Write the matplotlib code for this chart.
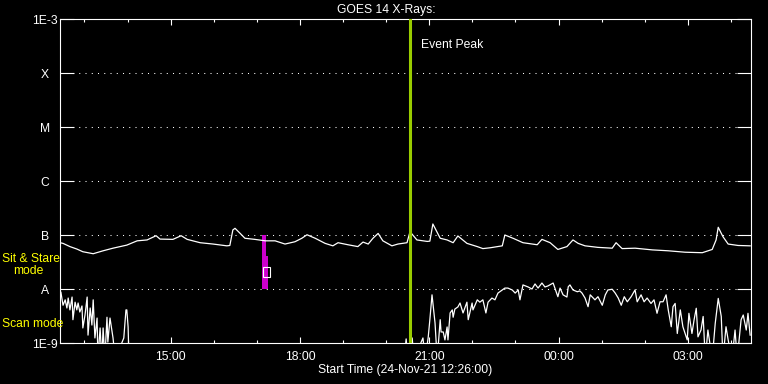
import numpy as np
import matplotlib
matplotlib.use('Agg')
import matplotlib.pyplot as plt
import matplotlib.dates as mdates
from matplotlib.patches import Rectangle

# start of plot window and length (hours)
t0 = np.datetime64('2021-11-24T12:26:00')
span = 16.03

# 1-8 A channel (upper curve), hours since start / flux in 1e-8 W/m^2
hi_hours = [0.00, 0.07, 0.23, 0.39, 0.53, 0.77, 1.00, 1.23, 1.55, 1.79,
            2.02, 2.23, 2.32, 2.62, 2.81, 2.95, 3.25, 3.55, 3.87, 3.94,
            4.01, 4.06, 4.18, 4.29, 4.52, 4.76, 4.99, 5.22, 5.45, 5.61,
            5.73, 5.92, 6.15, 6.33, 6.45, 6.68, 6.91, 7.03, 7.15, 7.26,
            7.38, 7.49, 7.70, 7.84, 8.05, 8.12, 8.28, 8.52, 8.58, 8.65,
            8.82, 8.98, 9.12, 9.23, 9.44, 9.68, 9.81, 9.98, 10.26, 10.32,
            10.51, 10.74, 11.07, 11.18, 11.37, 11.55, 11.76, 11.90, 12.02, 12.18,
            12.48, 12.81, 12.90, 13.04, 13.34, 13.74, 14.11, 14.50, 14.90, 15.13,
            15.22, 15.27, 15.38, 15.50, 15.73, 16.01]
hi_flux = [7.2, 7.0, 6.1, 5.5, 4.9, 4.5, 5.1, 5.7, 6.5, 7.8,
           8.1, 9.7, 8.4, 8.3, 9.7, 8.3, 7.2, 6.8, 6.3, 6.4,
           12.4, 13.3, 10.7, 8.7, 8.3, 7.8, 7.8, 6.8, 7.5, 8.7,
           10.1, 8.7, 7.0, 6.3, 7.2, 6.6, 6.1, 7.4, 6.8, 8.7,
           10.7, 7.8, 6.3, 6.8, 7.2, 11.5, 8.1, 7.6, 7.7, 16.0,
           8.7, 8.1, 7.2, 9.6, 7.0, 6.1, 5.6, 5.8, 6.3, 10.0,
           8.7, 7.2, 6.6, 8.3, 7.2, 5.4, 6.1, 8.1, 7.0, 6.3,
           5.9, 5.7, 7.2, 5.6, 5.7, 5.3, 5.1, 4.8, 4.7, 5.4,
           8.1, 13.9, 9.3, 6.8, 6.4, 6.3]

# 0.5-4 A channel (lower curve), flux in 1e-9 W/m^2 (0.5 = below range)
lo_hours = [0.00, 0.02, 0.07, 0.12, 0.16, 0.19, 0.23, 0.28, 0.30, 0.35,
            0.39, 0.42, 0.46, 0.51, 0.53, 0.58, 0.63, 0.65, 0.70, 0.74,
            0.77, 0.81, 0.86, 0.88, 0.93, 0.97, 1.00, 1.04, 1.09, 1.11,
            1.16, 1.21, 1.23, 1.28, 1.48, 1.53, 1.55, 1.58, 1.60, 7.98,
            8.03, 8.07, 8.17, 8.21, 8.42, 8.47, 8.54, 8.58, 8.63, 8.65,
            8.70, 8.75, 8.82, 8.84, 8.89, 8.93, 8.98, 9.00, 9.05, 9.10,
            9.12, 9.16, 9.23, 9.28, 9.35, 9.44, 9.47, 9.56, 9.58, 9.68,
            9.74, 9.81, 9.88, 9.93, 10.02, 10.09, 10.16, 10.26, 10.32, 10.39,
            10.49, 10.56, 10.63, 10.67, 10.74, 10.86, 10.95, 11.02, 11.09, 11.18,
            11.25, 11.32, 11.44, 11.48, 11.55, 11.60, 11.67, 11.76, 11.79, 11.83,
            11.90, 12.00, 12.06, 12.11, 12.18, 12.25, 12.30, 12.41, 12.48, 12.58,
            12.65, 12.71, 12.81, 12.88, 12.95, 13.02, 13.09, 13.16, 13.25, 13.34,
            13.39, 13.48, 13.55, 13.62, 13.71, 13.78, 13.85, 13.92, 13.99, 14.06,
            14.11, 14.18, 14.22, 14.27, 14.32, 14.39, 14.45, 14.55, 14.59, 14.66,
            14.71, 14.76, 14.80, 14.87, 14.92, 14.97, 15.03, 15.13, 15.20, 15.27,
            15.34, 15.38, 15.45, 15.50, 15.59, 15.66, 15.71, 15.80, 15.85, 15.92,
            15.96, 16.01]
lo_flux = [8.9, 8.8, 5.0, 6.3, 4.45, 6.8, 4.1, 7.1, 2.7, 5.7,
           4.1, 5.5, 3.75, 4.85, 1.9, 3.3, 7.1, 1.4, 4.45, 2.15,
           6.3, 1.24, 2.9, 0.5, 1.9, 0.5, 1.9, 0.5, 3.0, 1.04,
           2.9, 1.6, 1.24, 0.5, 1.24, 4.1, 4.1, 1.98, 0.5, 0.5,
           1.19, 0.5, 1.24, 0.5, 1.24, 0.5, 1.24, 2.7, 7.8, 5.5,
           2.35, 0.5, 2.7, 1.6, 1.6, 1.14, 1.98, 1.14, 3.6, 4.1,
           3.0, 4.25, 4.65, 5.5, 3.6, 5.7, 2.7, 5.5, 4.1, 6.3,
           5.7, 6.3, 3.6, 5.7, 6.8, 6.3, 8.4, 9.6, 10.4, 10.4,
           9.6, 8.4, 9.6, 6.3, 11.9, 10.9, 10.0, 12.4, 10.4, 12.9,
           10.9, 11.4, 12.9, 10.4, 7.2, 10.4, 7.8, 7.1, 11.0, 11.9,
           9.6, 8.9, 9.2, 8.4, 6.8, 4.7, 7.8, 6.3, 7.2, 5.0,
           7.8, 9.6, 9.9, 8.4, 6.8, 5.0, 7.2, 5.8, 7.2, 9.6,
           5.8, 7.8, 5.8, 6.8, 5.4, 6.3, 3.55, 5.8, 5.8, 7.8,
           4.1, 2.0, 4.7, 5.4, 1.5, 4.1, 2.0, 1.14, 3.55, 1.5,
           2.7, 4.4, 1.3, 1.74, 3.1, 0.5, 1.74, 0.5, 2.3, 6.7,
           3.1, 0.5, 2.0, 1.14, 0.5, 1.74, 0.5, 2.7, 3.3, 1.74,
           3.55, 1.4]

# event peak (hours since start)
peak_hours = 8.12

# sit & stare marker: step edges (hours) and top flux
ss_hours = [4.69, 4.77, 4.83]
ss_top = [1.0e-7, 4.1e-8, 4.1e-8]
ss_bottom = 1.0e-8
box_hours = [4.72, 4.88]
box_flux = [1.67e-8, 2.56e-8]

levels = [1e-9, 1e-8, 1e-7, 1e-6, 1e-5, 1e-4, 1e-3]
level_names = ['1E-9', 'A', 'B', 'C', 'M', 'X', '1E-3']


def to_time(h):
    return t0 + np.round(np.asarray(h) * 3600).astype('timedelta64[s]')


plt.rcParams['font.family'] = ['Liberation Sans', 'DejaVu Sans']
fs = 8.7

W, H = 768, 384
fig = plt.figure(figsize=(W / 100, H / 100), dpi=100, facecolor='black')
ax = fig.add_axes([60 / W, 41 / H, 691 / W, 324 / H], facecolor='black')

# dotted level lines
for v in levels[1:-1]:
    ax.axhline(v, color='white', lw=0.75, ls=(0, (1, 5)), zorder=1)

ax.plot(to_time(hi_hours), np.array(hi_flux) * 1e-8, color='white', lw=0.9,
        zorder=3)
ax.plot(to_time(lo_hours), np.array(lo_flux) * 1e-9, color='white', lw=0.9,
        zorder=3)

ax.fill_between(to_time(ss_hours), ss_bottom, ss_top, step='post',
                color='#cc00cc', lw=0, zorder=2)
bx = mdates.date2num(to_time(box_hours))
ax.add_patch(Rectangle((bx[0], box_flux[0]), bx[1] - bx[0],
                       box_flux[1] - box_flux[0], fill=False,
                       ec='white', lw=0.8, zorder=4))

ax.axvline(to_time(peak_hours), color='#99cc00', lw=2.2, zorder=5)
ax.text(to_time(peak_hours + 0.25), 3.3e-4, 'Event Peak', color='white',
        fontsize=fs, va='center', ha='left')

ax.set_yscale('log')
ax.set_ylim(1e-9, 1e-3)
ax.set_yticks(levels)
ax.set_yticklabels(level_names)
ax.yaxis.set_minor_locator(matplotlib.ticker.NullLocator())
ax.set_xlim(to_time(0), to_time(span))
ax.xaxis.set_major_locator(mdates.HourLocator(byhour=range(0, 24, 3)))
ax.xaxis.set_minor_locator(mdates.HourLocator())
ax.xaxis.set_major_formatter(mdates.DateFormatter('%H:%M'))

ax.tick_params(axis='y', which='major', direction='in', length=10, width=0.8,
               left=True, right=True, colors='white', labelsize=fs, pad=11)
for lab in ax.get_yticklabels():
    lab.set_horizontalalignment('center')
ax.tick_params(axis='x', which='major', direction='in', length=4.5, width=0.8,
               top=True, bottom=True, colors='white', labelsize=fs, pad=6)
ax.tick_params(axis='x', which='minor', direction='in', length=2.2, width=0.8,
               top=True, bottom=True, colors='white')
for s in ax.spines.values():
    s.set_color('white')
    s.set_linewidth(0.8)

fig.text(386 / W, 1 - 10 / H, 'GOES 14 X-Rays:', color='white', fontsize=fs,
         ha='center', va='center')
fig.text(405 / W, 1 - 370 / H, 'Start Time (24-Nov-21 12:26:00)',
         color='white', fontsize=fs, ha='center', va='center')
fig.text(2 / W, 1 - 259 / H, 'Sit & Stare', color='yellow', fontsize=fs,
         ha='left', va='center')
fig.text(13 / W, 1 - 271 / H, 'mode', color='yellow', fontsize=fs,
         ha='left', va='center')
fig.text(2 / W, 1 - 324 / H, 'Scan mode', color='yellow', fontsize=fs,
         ha='left', va='center')

fig.savefig('out.png', dpi=100, facecolor='black')
